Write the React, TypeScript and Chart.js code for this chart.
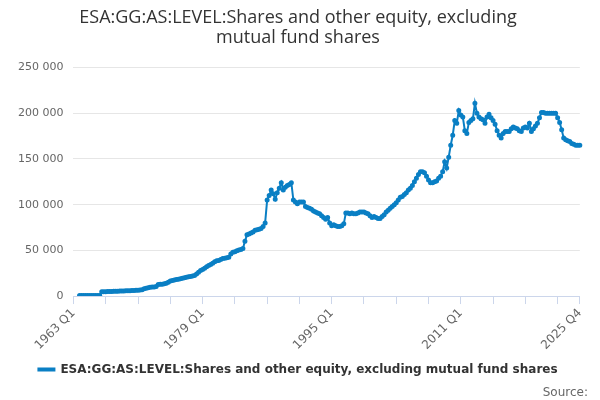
import React, { useEffect, useRef } from "react";
import { Chart, registerables } from "chart.js";
Chart.register(...registerables);

const years: number[] = [];
for (let y = 1963; y <= 2025; y++) years.push(y);
const categories: string[] = [];
years.forEach((y) => [1, 2, 3, 4].forEach((q) => categories.push(`${y} Q${q}`)));

const values: (number | null)[] = [
  null, null, null, 500,
  500, 500, 500, 500,
  500, 500, 500, 500,
  500, 500, 4700, 4800,
  4800, 4900, 5000, 5000,
  5200, 5300, 5300, 5400,
  5500, 5600, 5800, 5800,
  5900, 6000, 6200, 6300,
  6400, 6500, 7000, 8000,
  8500, 9000, 9500, 9800,
  10000, 10500, 12700, 12800,
  13000, 13500, 14000, 15000,
  16500, 17000, 17500, 18000,
  18500, 19000, 19500, 20000,
  20500, 21000, 21500, 22000,
  22500, 24000, 26000, 28000,
  29000, 30500, 32000, 33500,
  34500, 36000, 37500, 38500,
  39000, 40000, 41000, 41500,
  42000, 42500, 46000, 48000,
  48500, 49500, 50500, 51000,
  52000, 60000, 67000, 68000,
  69000, 70000, 72000, 72500,
  73000, 74000, 76000, 80000,
  105000, 110000, 116000, 112000,
  106000, 113000, 118000, 124000,
  116000, 119000, 121000, 122000,
  124000, 105000, 103000, 101000,
  103000, 103000, 103000, 98000,
  97000, 96000, 95000, 93000,
  92000, 91000, 90000, 88000,
  86000, 84000, 86000, 80000,
  77000, 78000, 77000, 76000,
  76000, 77000, 79000, 91000,
  91000, 90000, 91000, 90000,
  90000, 91000, 92000, 92000,
  92000, 91000, 90000, 88000,
  86000, 87000, 86000, 85000,
  85000, 87000, 89000, 92000,
  94000, 96000, 98000, 100000,
  102000, 105000, 108000, 109000,
  111000, 113000, 116000, 118000,
  121000, 125000, 129000, 133000,
  136000, 136000, 135000, 131000,
  127000, 124000, 124000, 125000,
  126000, 129000, 131000, 136000,
  147000, 140000, 152000, 165000,
  176000, 192000, 189000, 203000,
  198000, 196000, 181000, 178000,
  190000, 192000, 194000, 211000,
  200000, 196000, 194000, 193000,
  189000, 196000, 199000, 195000,
  192000, 188000, 181000, 176000,
  173000, 178000, 180000, 180000,
  180000, 183000, 185000, 184000,
  183000, 181000, 180000, 184000,
  185000, 184000, 189000, 180000,
  183000, 186000, 189000, 195000,
  201000, 201000, 200000, 200000,
  200000, 200000, 200000, 200000,
  195000, 190000, 182000, 173000,
  171000, 170000, 169000, 167000,
  166000, 165000, 165000, 165000,
];

const seriesName = "ESA:GG:AS:LEVEL:Shares and other equity, excluding mutual fund shares";
const titleLines = ["ESA:GG:AS:LEVEL:Shares and other equity, excluding", "mutual fund shares"];
const FONT = "'DejaVu Sans', sans-serif";

export default function App() {
  const ref = useRef<HTMLCanvasElement>(null);
  useEffect(() => {
    const last = categories.length - 1;
    const chart = new Chart(ref.current!, {
      type: "line",
      data: {
        labels: categories,
        datasets: [{
          label: seriesName,
          data: values,
          borderColor: "#0a7fc4",
          backgroundColor: "#0a7fc4",
          borderWidth: 2,
          pointRadius: 1.5,
          pointHoverRadius: 2,
          tension: 0,
        }],
      },
      options: {
        animation: false,
        responsive: true,
        maintainAspectRatio: false,
        layout: { padding: { left: 0, right: 4, top: 0, bottom: 0 } },
        plugins: {
          title: {
            display: true, text: titleLines, color: "#333333",
            font: { family: "'Open Sans', sans-serif", size: 18, weight: "normal", lineHeight: 1.1 },
            padding: { top: 0, bottom: 20 },
          },
          subtitle: {
            display: true, text: "Source:", position: "bottom", align: "end",
            color: "#666666", font: { family: FONT, size: 12 }, padding: { top: 0, bottom: 0 },
          },
          legend: {
            position: "bottom",
            labels: {
              color: "#333333", font: { family: FONT, size: 12, weight: "bold" },
              boxWidth: 16, boxHeight: 2, padding: 9,
            },
          },
          tooltip: { enabled: false },
        },
        scales: {
          x: {
            grid: { drawOnChartArea: false, color: "#ccd6eb", tickLength: 8 },
            border: { color: "#ccd6eb" },
            ticks: {
              autoSkip: false, maxRotation: 45, minRotation: 45, color: "#666666",
              font: { family: FONT, size: 12 }, padding: 2,
              callback: (v: any, i: number) => {
                if (i % 64 === 0 || i === last) return categories[i];
                if (i % 16 === 0) return "";
                return null;
              },
            },
          },
          y: {
            min: 0, max: 250000,
            border: { display: false },
            grid: { color: "#e6e6e6", drawTicks: false },
            ticks: {
              stepSize: 50000, color: "#666666", padding: 10,
              font: { family: FONT, size: 11 },
              callback: (v: any) => String(v).replace(/\B(?=(\d{3})+(?!\d))/g, " "),
            },
          },
        },
      },
    });
    return () => chart.destroy();
  }, []);
  return (
    <div style={{ width: 584, height: 392 }}>
      <canvas ref={ref} />
    </div>
  );
}
